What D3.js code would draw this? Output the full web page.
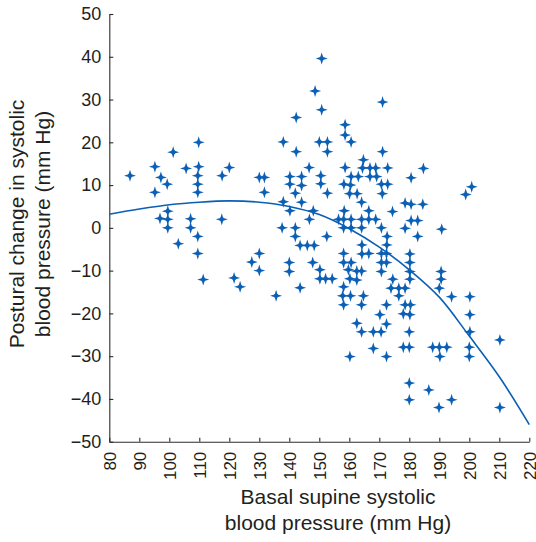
<!DOCTYPE html>
<html><head><meta charset="utf-8">
<script src="https://cdn.jsdelivr.net/npm/d3@7"></script>
<style>
body{margin:0;background:#fff;}
svg{display:block;}
text{font-family:"Liberation Sans",Arial,Helvetica,sans-serif;fill:#231f20;}
</style>
</head><body>
<svg id="chart" width="536" height="542"></svg>
<script>
// Basal supine systolic blood pressure (mm Hg)
const basalSBP = [
 86.9,95.2,97.2,95.2,101.3,99.3,105.6,109.8,109.8,109.5,109.5,109.5,117.6,120.0,130,131.7,131.7,
 99.5,96.9,99.5,99.5,107.1,107.1,109.5,117.5,103,109.5,111.3,121.6,123.6,127.5,130,130,135.6,
 150.8,148.6,150.8,171.1,142.3,158.6,158.6,160.6,138,150,152.7,142.3,152.7,171.1,146.6,158.6,164.7,
 164.4,166.9,168.8,172.8,
 140.2,144.1,150.5,160.6,163,166.9,169.1,
 140.2,144.1,150.5,158.2,160.4,170.7,172.8,
 142,152.7,160.1,162.6,171,
 138,144.1,164.1,
 140.2,148,158.3,166.5,174.4,
 146.7,156.4,158.1,160.6,164.1,166.5,168.8,
 137.6,142,158.1,160.6,164.1,170.7,
 142,152.5,172.6,
 143.6,146,148.3,164.2,172.5,
 158.1,164.2,166.5,170.7,172.4,
 140,147.8,158.1,160.6,170.7,172.4,
 140,150.2,159.7,162.5,164.1,170.7,
 150.2,152.1,154.3,160.2,162.5,174.5,
 143.6,158.1,173.9,176.5,178.6,
 157.8,160.4,164.7,176.5,
 158.1,164.1,172.4,178.6,180.4,
 170.2,178,180.2,162.5,172.4,164.1,168,170.6,180,168,178,180,160.2,172.4,180,180,
 200.2,200.2,210.2,187.8,190,192.5,200,190.2,200,186.5,194.1,189.9,210.2,
 184.7,180.6,200.8,198.8,178.6,180.6,184.5,180.6,182.8,178.6,190.8,182.8,
 180.2,180.2,180.2,180.2,190.6,190.6,190,194.1,200.2
];
// Postural change in systolic blood pressure (mm Hg)
const posturalChange = [
 12.2,14.3,11.8,8.3,17.7,10.2,13.9,20.0,14.3,12.2,10.2,8.3,12.2,14.1,11.8,11.8,8.3,
 3.9,2.2,2.0,0,2.1,0,-2.0,2.0,-3.7,-6.0,-12.1,-11.7,-13.8,-8.0,-6.0,-10.0,-15.9,
 39.6,32.0,27.6,29.4,25.8,24.1,21.7,20.1,20.1,20.1,20.1,17.8,17.8,17.8,14.1,14.1,15.9,
 14.0,14.0,14.0,14.0,
 12.0,12.0,12.2,12.0,12.0,12.0,12.0,
 10.2,9.9,10.3,10.2,10.0,10.2,10.2,
 8.1,8.1,8.0,8.0,8.0,
 6.1,6.0,6.0,
 4.0,4.0,4.0,4.0,3.8,
 2.0,2.0,2.0,2.0,2.0,2.0,2.0,
 0,0,0,0,0,0,
 -2.0,-2.0,-2.0,
 -4.1,-4.1,-4.1,-4.0,-4.0,
 -6.0,-6.1,-6.0,-6.0,-6.0,
 -8.1,-8.1,-8.1,-8.1,-8.1,-8.1,
 -10.2,-9.8,-9.8,-10.1,-10.1,-10.2,
 -11.9,-11.9,-11.9,-11.9,-12.2,-12.0,
 -14.0,-13.8,-14.1,-14.1,-14.1,
 -15.9,-15.9,-15.9,-15.9,
 -18.0,-18.0,-18.0,-18.0,-18.0,
 -20.3,-20.1,-20.3,-22.3,-22.5,-24.3,-24.3,-24.3,-24.3,-28.2,-27.9,-27.9,-30.1,-30.1,-36.3,-40.2,
 -20.3,-24.3,-26.2,-27.9,-27.9,-27.9,-27.9,-30.1,-30.1,-37.9,-40.2,-42.0,-42.0,
 13.9,11.7,9.6,7.8,5.8,5.5,5.5,1.7,1.7,-0.1,-0.3,-2.0,
 -6.1,-8.1,-10.2,-12.0,-10.2,-12.0,-14.1,-16.1,-16.1
];
// Fitted curve
const fitX = [80,90,100,110,120,130,140,150,160,170,180,190,200,210,220];
const fitY = [3.2,4.4,5.4,6.0,6.3,6.0,5.0,3.1,-0.2,-4.5,-9.8,-16.2,-25.3,-34.8,-46.0];

const xTicks = [80,90,100,110,120,130,140,150,160,170,180,190,200,210,220];
const yTicks = [50,40,30,20,10,0,-10,-20,-30,-40,-50];

const xTitle = ["Basal supine systolic","blood pressure (mm Hg)"];
const yTitle = ["Postural change in systolic","blood pressure (mm Hg)"];

const blue = "#0b5fb5";
const axisColor = "#2b2b2b";

const svg = d3.select("#chart");
const x = d3.scaleLinear().domain([80,220]).range([109.3,529.3]);
const y = d3.scaleLinear().domain([-50,50]).range([441.7,14]);

// axes
const gx = svg.append("g").attr("transform",`translate(0,${y(-50)})`)
  .call(d3.axisBottom(x).tickValues(xTicks).tickSizeInner(-4).tickSizeOuter(0));
gx.selectAll("text")
  .attr("transform","rotate(-90)")
  .attr("x",-10).attr("y",0).attr("dy","0.35em")
  .attr("text-anchor","end").style("font-size","17px");
const gy = svg.append("g").attr("transform",`translate(${x(80)},0)`)
  .call(d3.axisLeft(y).tickValues(yTicks).tickSizeInner(-4).tickSizeOuter(0).tickPadding(8));
gy.selectAll("text").style("font-size","18px");
[gx,gy].forEach(g=>{
  g.select(".domain").attr("stroke",axisColor).attr("stroke-width",1.1);
  g.selectAll(".tick line").attr("stroke",axisColor).attr("stroke-width",1.1);
  g.attr("font-family",null).attr("font-size",null);
});

// fit line
svg.append("path")
  .datum(fitX.map((d,i)=>[d,fitY[i]]))
  .attr("fill","none").attr("stroke",blue).attr("stroke-width",1.6)
  .attr("d",d3.line().x(d=>x(d[0])).y(d=>y(d[1])).curve(d3.curveCatmullRom.alpha(0.5)));

// markers: four-point sparkle with a solid centre
function sparkle(r,w,c){
  const p = d3.path();
  p.moveTo(0,-r); p.lineTo(w,-w); p.lineTo(r,0); p.lineTo(w,w);
  p.lineTo(0,r); p.lineTo(-w,w); p.lineTo(-r,0); p.lineTo(-w,-w); p.closePath();
  p.moveTo(c,0); p.arc(0,0,c,0,2*Math.PI);
  return p.toString();
}
const markerPath = sparkle(6,1.4,2.3);
svg.append("g").selectAll("path")
  .data(basalSBP.map((d,i)=>[d,posturalChange[i]]))
  .join("path")
  .attr("transform",d=>`translate(${x(d[0])},${y(d[1])})`)
  .attr("d",markerPath).attr("fill",blue).attr("fill-rule","nonzero");

// titles
const tx = svg.append("text").attr("text-anchor","middle").style("font-size","21px");
xTitle.forEach((t,i)=>tx.append("tspan").attr("x",338).attr("y",504+i*26).text(t));
const ty = svg.append("text").attr("text-anchor","middle").style("font-size","21px")
  .attr("transform","translate(0,224) rotate(-90)");
yTitle.forEach((t,i)=>ty.append("tspan").attr("x",0).attr("y",24+i*26).text(t));
</script>
</body></html>
